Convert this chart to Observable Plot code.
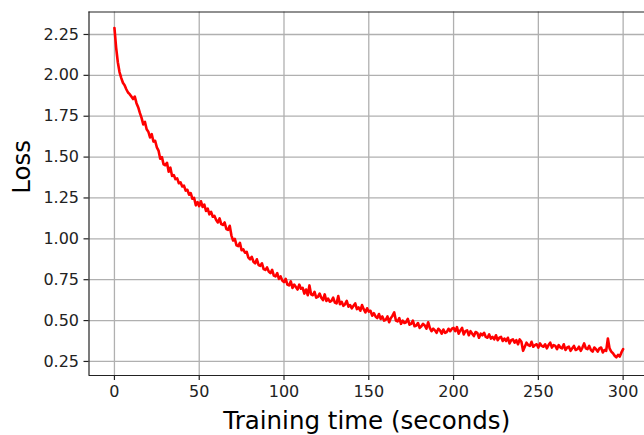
<!DOCTYPE html>
<html>
<head>
<meta charset="utf-8">
<script src="https://cdn.jsdelivr.net/npm/d3@7"></script>
<script src="https://cdn.jsdelivr.net/npm/@observablehq/plot@0.6"></script>
<style>
  html, body { margin: 0; padding: 0; background: #fff; }
  #chart { width: 644px; height: 435px; }
</style>
</head>
<body>
<div id="chart"></div>
<script>
const lossValues = [
  2.29, 2.17, 2.08, 2.02, 1.985, 1.955, 1.94, 1.915, 1.895, 1.885,
  1.87, 1.855, 1.87, 1.83, 1.805, 1.77, 1.74, 1.70, 1.715, 1.67,
  1.655, 1.62, 1.64, 1.595, 1.60, 1.56, 1.54, 1.49, 1.50, 1.455,
  1.45, 1.465, 1.41, 1.435, 1.385, 1.39, 1.365, 1.37, 1.34, 1.345,
  1.32, 1.325, 1.295, 1.30, 1.27, 1.28, 1.245, 1.25, 1.205, 1.225,
  1.20, 1.23, 1.195, 1.21, 1.17, 1.185, 1.15, 1.165, 1.135, 1.14,
  1.115, 1.10, 1.125, 1.09, 1.085, 1.10, 1.06, 1.055, 1.08, 1.02,
  0.99, 1.00, 0.96, 0.955, 0.975, 0.93, 0.935, 0.915, 0.92, 0.885,
  0.875, 0.89, 0.86, 0.85, 0.875, 0.84, 0.835, 0.85, 0.815, 0.81,
  0.825, 0.80, 0.79, 0.81, 0.775, 0.77, 0.79, 0.755, 0.77, 0.745,
  0.735, 0.755, 0.72, 0.715, 0.74, 0.70, 0.72, 0.705, 0.69, 0.72,
  0.695, 0.70, 0.665, 0.69, 0.655, 0.715, 0.66, 0.655, 0.675, 0.64,
  0.645, 0.665, 0.64, 0.625, 0.66, 0.62, 0.635, 0.615, 0.62, 0.64,
  0.61, 0.605, 0.65, 0.60, 0.615, 0.59, 0.60, 0.62, 0.585, 0.595,
  0.575, 0.59, 0.605, 0.57, 0.58, 0.56, 0.595, 0.57, 0.55, 0.575,
  0.555, 0.56, 0.53, 0.545, 0.525, 0.515, 0.54, 0.51, 0.525, 0.50,
  0.505, 0.525, 0.49, 0.515, 0.53, 0.55, 0.50, 0.495, 0.515, 0.48,
  0.50, 0.485, 0.49, 0.51, 0.475, 0.48, 0.50, 0.465, 0.47, 0.485,
  0.455, 0.465, 0.48, 0.47, 0.45, 0.49, 0.455, 0.435, 0.45, 0.44,
  0.425, 0.45, 0.44, 0.42, 0.445, 0.425, 0.43, 0.45, 0.435, 0.45,
  0.455, 0.435, 0.46, 0.42, 0.44, 0.455, 0.415, 0.435, 0.44, 0.41,
  0.435, 0.42, 0.405, 0.43, 0.425, 0.395, 0.42, 0.41, 0.425, 0.40,
  0.395, 0.415, 0.39, 0.40, 0.385, 0.41, 0.38, 0.395, 0.40, 0.375,
  0.39, 0.375, 0.395, 0.36, 0.38, 0.385, 0.365, 0.38, 0.355, 0.385,
  0.37, 0.315, 0.34, 0.365, 0.35, 0.345, 0.37, 0.34, 0.35, 0.355,
  0.335, 0.36, 0.345, 0.34, 0.355, 0.33, 0.35, 0.365, 0.335, 0.35,
  0.345, 0.325, 0.35, 0.335, 0.33, 0.355, 0.32, 0.335, 0.34, 0.315,
  0.33, 0.345, 0.32, 0.325, 0.34, 0.315, 0.335, 0.36, 0.33, 0.325,
  0.345, 0.32, 0.31, 0.335, 0.325, 0.31, 0.33, 0.335, 0.305, 0.32,
  0.315, 0.39, 0.33, 0.31, 0.30, 0.285, 0.275, 0.29, 0.28, 0.305,
  0.325
];
const trainingSeconds = d3.range(lossValues.length); // one sample per second

const xTicks = [0, 50, 100, 150, 200, 250, 300];
const yTicks = [0.25, 0.50, 0.75, 1.00, 1.25, 1.50, 1.75, 2.00, 2.25];
const xLabel = "Training time (seconds)";
const yLabel = "Loss";

const data = trainingSeconds.map((t, i) => ({t, loss: lossValues[i]}));

const xDomain = [-15, 312.6];
const yDomain = [0.164, 2.3875];
const ink = "#222";
const gridColor = "#b0b0b0";

const chart = Plot.plot({
  width: 644,
  height: 435,
  marginLeft: 88.5,
  marginRight: 0,
  marginTop: 11.5,
  marginBottom: 60,
  style: {fontFamily: "DejaVu Sans, sans-serif", fontSize: "16px", color: ink, background: "#fff"},
  x: {domain: xDomain},
  y: {domain: yDomain},
  marks: [
    Plot.gridX(xTicks, {stroke: gridColor, strokeOpacity: 1, strokeWidth: 1.3}),
    Plot.gridY(yTicks, {stroke: gridColor, strokeOpacity: 1, strokeWidth: 1.3}),
    Plot.line(data, {x: "t", y: "loss", stroke: "#ff0000", strokeWidth: 2.6, strokeLinejoin: "round"}),
    Plot.ruleX([xDomain[0]], {stroke: ink, strokeWidth: 1.2}),
    Plot.ruleY(yDomain, {stroke: ink, strokeWidth: 1.2}),
    Plot.axisX(xTicks, {label: null, tickSize: 5, tickPadding: 5, stroke: ink, fill: ink, strokeWidth: 1.2, tickFormat: d3.format("d")}),
    Plot.axisY(yTicks, {label: null, tickSize: 5, tickPadding: 5, stroke: ink, fill: ink, strokeWidth: 1.2, tickFormat: d3.format(".2f")}),
    Plot.text([xLabel], {frameAnchor: "bottom", dy: 53, fontSize: 24.5, fill: "#000", text: d => d}),
    Plot.text([yLabel], {frameAnchor: "left", dx: -67, rotate: -90, fontSize: 24.5, fill: "#000", text: d => d})
  ]
});
document.getElementById("chart").appendChild(chart);
</script>
</body>
</html>
